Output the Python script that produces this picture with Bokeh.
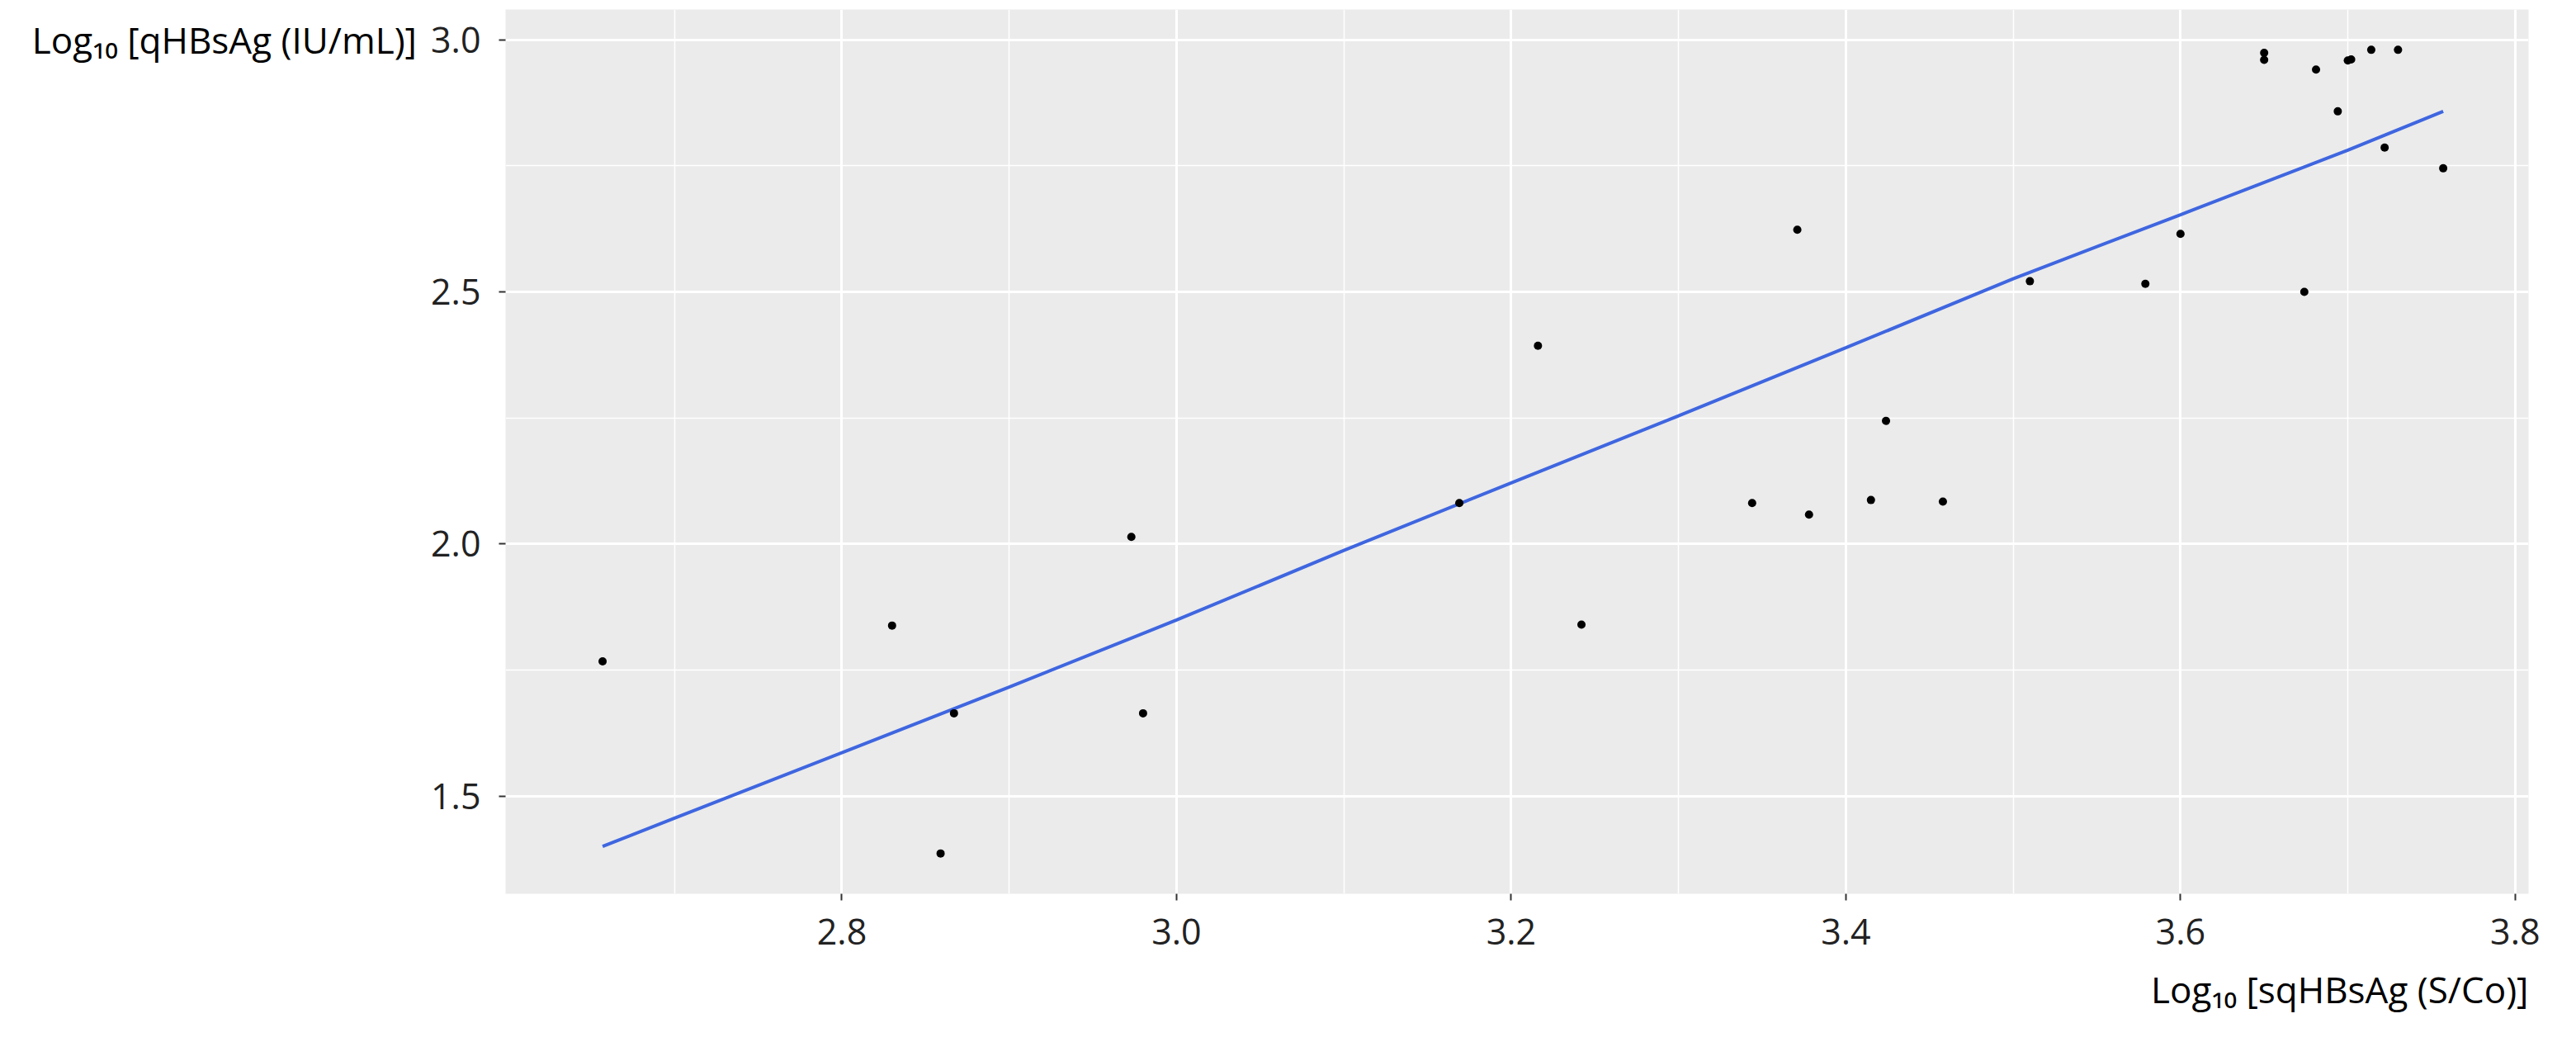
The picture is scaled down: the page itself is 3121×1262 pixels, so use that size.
from bokeh.plotting import figure
from bokeh.models import Range1d, FixedTicker, PrintfTickFormatter, Title
from bokeh.embed import file_html
from bokeh.resources import INLINE

# ---- data ----
sq_log = [2.657, 2.830, 2.859, 2.867, 2.973, 2.980, 3.169, 3.216, 3.242, 3.344,
          3.371, 3.378, 3.415, 3.424, 3.458, 3.510, 3.579, 3.600, 3.650, 3.650,
          3.674, 3.681, 3.694, 3.700, 3.702, 3.714, 3.722, 3.730, 3.757]
q_log = [1.767, 1.838, 1.386, 1.664, 2.014, 1.664, 2.081, 2.393, 1.840, 2.081,
         2.623, 2.058, 2.087, 2.244, 2.084, 2.521, 2.516, 2.615, 2.974, 2.960,
         2.500, 2.941, 2.858, 2.959, 2.961, 2.980, 2.786, 2.980, 2.745]

smooth_x = [2.657, 2.7, 2.8, 2.9, 3.0, 3.1, 3.2, 3.3, 3.4, 3.5, 3.6, 3.7, 3.757]
smooth_y = [1.400, 1.456, 1.586, 1.716, 1.849, 1.987, 2.121, 2.254, 2.389, 2.526, 2.653, 2.781, 2.858]

x_ticks = [2.8, 3.0, 3.2, 3.4, 3.6, 3.8]
x_minor = [2.7, 2.9, 3.1, 3.3, 3.5, 3.7]
y_ticks = [1.5, 2.0, 2.5, 3.0]
y_minor = [1.75, 2.25, 2.75]

x_title = "Log\u2081\u2080 [sqHBsAg (S/Co)]"
y_title = "Log\u2081\u2080 [qHBsAg (IU/mL)]"

FONT = "Open Sans"

W, H = 3105, 1246
p = figure(width=W, height=H, output_backend="svg", toolbar_location=None,
           x_range=Range1d(2.599, 3.808), y_range=Range1d(1.306, 3.060),
           min_border_left=612, min_border_right=42, min_border_top=11,
           min_border_bottom=161)
p.border_fill_color = "white"
p.background_fill_color = "#EBEBEB"
p.outline_line_color = None

for g in (p.xgrid[0], p.ygrid[0]):
    g.grid_line_color = "white"
    g.grid_line_width = 3
    g.minor_grid_line_color = "white"
    g.minor_grid_line_width = 1.5

p.xaxis.ticker = FixedTicker(ticks=x_ticks, minor_ticks=x_minor)
p.yaxis.ticker = FixedTicker(ticks=y_ticks, minor_ticks=y_minor)
for ax in (p.xaxis[0], p.yaxis[0]):
    ax.formatter = PrintfTickFormatter(format="%.1f")
    ax.axis_line_color = None
    ax.major_tick_line_color = "#333333"
    ax.major_tick_line_width = 2
    ax.major_tick_out = 8
    ax.major_tick_in = 0
    ax.minor_tick_line_color = None
    ax.major_label_text_font = FONT
    ax.major_label_text_font_size = "43px"
    ax.major_label_text_color = "#222222"
    ax.major_label_standoff = 22
    ax.axis_label_text_font = FONT
    ax.axis_label_text_font_size = "44px"
    ax.axis_label_text_font_style = "normal"
    ax.axis_label_text_color = "black"

# y title: horizontal, at the top, level with the 3.0 tick
# (an empty first line moves the visible line below the panel's top edge)
ya = p.yaxis[0]
ya.axis_label = "\n" + y_title
ya.axis_label_align = "end"
ya.axis_label_orientation = "horizontal"
ya.axis_label_standoff = 14

# x title: below the axis, right-aligned with the panel
p.xaxis[0].axis_label = None
p.add_layout(Title(text=x_title, align="right", text_font=FONT,
                   text_font_size="44px", text_font_style="normal",
                   text_color="black", standoff=38), "below")

p.line(smooth_x, smooth_y, line_color="#3F66E0", line_width=4)
p.scatter(sq_log, q_log, size=10, fill_color="black", line_color=None)

open("out.html", "w").write(file_html(p, INLINE))
